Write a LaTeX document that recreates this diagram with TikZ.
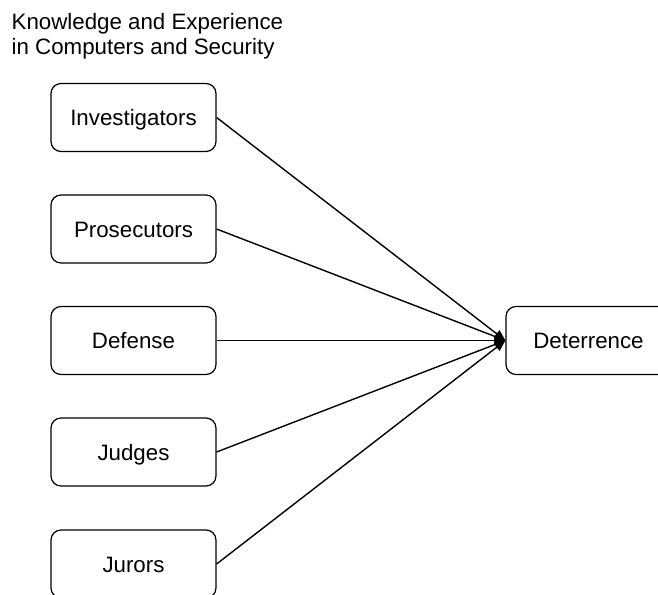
\documentclass[tikz,border=0pt]{standalone}
\usepackage{fontspec}
\setmainfont{Liberation Sans}
\usetikzlibrary{arrows.meta}
\begin{document}
\begin{tikzpicture}[x=1pt,y=-1pt,
  box/.style={draw=black, line width=1.2pt, rounded corners=10pt, minimum width=165pt, minimum height=68pt, inner sep=0pt, text height=16pt, text depth=0pt, font=\fontsize{22.3}{26}\selectfont},
  ttl/.style={anchor=base west, inner sep=0pt, font=\fontsize{22.3}{26}\selectfont},
  conn/.style={line width=1.4pt, -{Triangle[length=11pt,width=9pt]}}]
\clip (0,0) rectangle (658,594);
\useasboundingbox (0,0) rectangle (658,594);
\node[ttl] (t1) at (11.5,30) {Knowledge and Experience};
\node[ttl] (t2) at (11.5,54.5) {in Computers and Security};
\node[box] (inv) at (133.5,117.5) {Investigators};
\node[box] (pro) at (133.5,229) {Prosecutors};
\node[box] (def) at (133.5,340.5) {Defense};
\node[box] (jud) at (133.5,452) {Judges};
\node[box] (jur) at (133.5,564) {Jurors};
\node[box] (det) at (588.5,340.5) {Deterrence};
\foreach \n in {inv,pro,def,jud,jur}
  \draw[conn] (\n.east) -- (det.west);
\end{tikzpicture}
\end{document}
